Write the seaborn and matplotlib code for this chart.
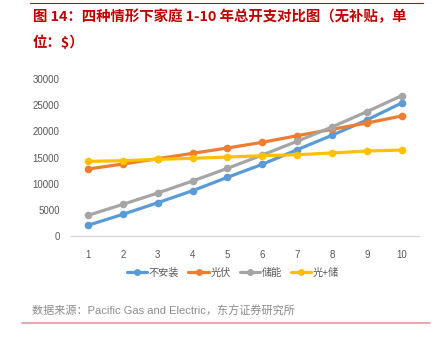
import matplotlib
matplotlib.use("Agg")
import matplotlib.pyplot as plt
import seaborn as sns
import pandas as pd
from matplotlib.lines import Line2D

years = list(range(1, 11))
s_none = [2000, 4100, 6330, 8630, 11200, 13690, 16490, 19250, 22190, 25450]
s_pv = [12790, 13750, 14770, 15800, 16820, 17910, 19180, 20400, 21610, 22960]
s_storage = [3910, 6020, 8190, 10490, 12920, 15470, 18100, 20850, 23780, 26850]
s_pv_storage = [14270, 14380, 14650, 14840, 15090, 15340, 15530, 15860, 16240, 16430]
names = ["不安装", "光伏", "储能", "光+储"]
colors = ["#5B9BD5", "#ED7D31", "#A5A5A5", "#FFC000"]

rows = []
for n, vals in zip(names, [s_none, s_pv, s_storage, s_pv_storage]):
    for y, v in zip(years, vals):
        rows.append({"year": y, "value": v, "series": n})
df = pd.DataFrame(rows)

sns.set_style("white")
plt.rcParams['font.family'] = ['Liberation Sans', 'Noto Sans CJK SC']

fig = plt.figure(figsize=(4.35, 3.42), dpi=100)
ax = fig.add_axes([70.7/435, 1-235.7/342, (419-70.7)/435, (235.7-79.3)/342])
sns.lineplot(data=df, x="year", y="value", hue="series", palette=colors,
             hue_order=names, marker="o", markersize=5.5, markeredgewidth=0,
             linewidth=2.3, ax=ax, legend=False)
ax.set_xlim(0.5, 10.5)
ax.set_ylim(0, 30000)
ax.set_xticks(years)
ax.set_yticks(range(0, 30001, 5000))
ax.set_xlabel("")
ax.set_ylabel("")
for s in ["top", "right", "left"]:
    ax.spines[s].set_visible(False)
ax.spines["bottom"].set_color("#D9D9D9")
ax.spines["bottom"].set_linewidth(1)
ax.tick_params(axis="both", length=0, labelsize=7, labelcolor="#595959")
ax.tick_params(axis="x", pad=10)
ax.tick_params(axis="y", pad=8)

handles = [Line2D([0], [0], color=c, lw=2.3, marker="o", markersize=5, markeredgewidth=0) for c in colors]
fig.legend(handles, names, loc="center", bbox_to_anchor=(233/435, 1-273/342), ncol=4,
           frameon=False, fontsize=7.3, handlelength=2.0, handletextpad=0.15, columnspacing=0.9,
           labelcolor="#595959")

# decorations
fig.add_artist(Line2D([30/435, 423/435], [1-3/342, 1-3/342], color="#CC0000", lw=0.8))
fig.text(33/435, 1-17/342, "图 14：四种情形下家庭 1-10 年总开支对比图（无补贴，单",
         color="#C00000", fontsize=10.4, fontweight="bold", va="center", ha="left",
         family=['Noto Sans CJK SC', 'DejaVu Sans'])
fig.text(33/435, 1-43/342, "位：$）", color="#C00000", fontsize=10.4, fontweight="bold",
         va="center", ha="left", family=['Noto Sans CJK SC', 'DejaVu Sans'])
fig.text(32/435, 1-311/342, "数据来源：Pacific Gas and Electric，东方证券研究所",
         color="#8C8C8C", fontsize=8, va="center", ha="left")
fig.add_artist(Line2D([22/435, 430/435], [1-323/342, 1-323/342], color="#E39A9A", lw=1.2))

fig.savefig("out.png", dpi=100)
